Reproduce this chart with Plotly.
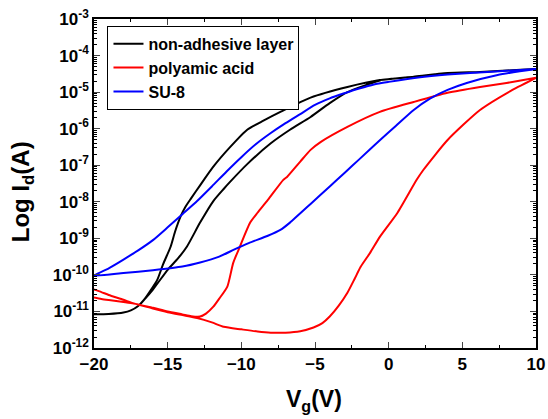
import plotly.graph_objects as go

# ---------------- data (gate voltage in V, log10 of drain current in A) ----------------
vg_black_a = [-20, -19, -18, -17.5, -17, -16.6, -16.2, -15.7, -15.3, -14.8, -14.5, -14.1, -13.8, -13.4,
              -12.8, -11.9, -10.75, -9.6, -8.5, -7.35, -5.3, -2.8, -0.6, 1.7, 4.0, 6.2, 8.0, 10]
log_black_a = [-11.08, -11.07, -11.03, -10.97, -10.85, -10.68, -10.45, -10.13, -9.70, -9.23, -8.82, -8.38,
               -8.14, -7.90, -7.55, -7.04, -6.50, -6.03, -5.78, -5.54, -5.15, -4.86, -4.67, -4.58, -4.48,
               -4.45, -4.41, -4.37]
vg_black_b = [-20, -19, -18, -17.5, -17, -16.6, -16.0, -15.0, -14.3, -13.7, -12.8, -11.9, -11.2, -10.75,
              -9.6, -8.0, -6.7, -5.3, -4.0, -2.8, -1.5, -0.6, 1.7, 4.0, 6.2, 8.0, 10]
log_black_b = [-11.08, -11.07, -11.03, -10.97, -10.85, -10.68, -10.40, -9.86, -9.55, -9.23, -8.57, -7.98,
               -7.65, -7.45, -6.97, -6.40, -6.03, -5.68, -5.30, -5.00, -4.80, -4.68, -4.58, -4.48, -4.45,
               -4.41, -4.37]

vg_red_a = [-20, -19.5, -19, -18, -17.3, -16, -15, -14, -13.4, -12.8, -12.4, -11.9, -11.5, -10.95, -10.55,
            -10.1, -9.4, -8.9, -8.2, -7.15, -6.9, -6.0, -5.3, -4.6, -2.8, -0.6, 1.7, 4.0, 6.2, 8.0, 10]
log_red_a = [-10.40, -10.47, -10.55, -10.68, -10.78, -10.90, -11.00, -11.08, -11.13, -11.14, -11.06, -10.87,
             -10.65, -10.32, -9.67, -9.23, -8.57, -8.30, -7.95, -7.40, -7.32, -6.90, -6.58, -6.36, -5.95,
             -5.54, -5.27, -5.02, -4.86, -4.75, -4.61]
vg_red_b = [-20, -19.5, -19, -18, -17.3, -16, -15, -14, -13, -12, -11.2, -10, -8.9, -8, -7, -6, -5.1, -4.5,
            -4.0, -3.4, -2.8, -2.3, -1.9, -1.25, -0.6, 0.6, 1.9, 2.35, 4.0, 6.2, 8.4, 10]
log_red_b = [-10.62, -10.66, -10.69, -10.74, -10.78, -10.92, -11.02, -11.10, -11.18, -11.30, -11.42, -11.49,
             -11.55, -11.58, -11.58, -11.54, -11.44, -11.32, -11.14, -10.85, -10.49, -10.10, -9.78, -9.39,
             -8.96, -8.30, -7.40, -7.13, -6.31, -5.49, -4.94, -4.61]

vg_blue_a = [-20, -19, -18, -17, -16, -15, -14, -13, -12, -11, -10, -9, -8, -7, -6, -5, -4, -3, -2, -1, 0,
             2, 4, 7, 10]
log_blue_a = [-10.02, -9.82, -9.58, -9.33, -9.05, -8.70, -8.34, -7.98, -7.58, -7.17, -6.78, -6.42, -6.12,
              -5.85, -5.60, -5.35, -5.17, -5.03, -4.90, -4.79, -4.72, -4.60, -4.52, -4.44, -4.37]
vg_blue_b = [-20, -18, -16, -14, -12.8, -11.5, -10.5, -9.5, -8.2, -7.35, -6.7, -5.3, -4.0, -3.0, -2.0, -0.6,
             0.5, 1.7, 2.8, 4.0, 5.3, 7.4, 10]
log_blue_b = [-10.02, -9.95, -9.87, -9.77, -9.66, -9.50, -9.31, -9.13, -8.93, -8.77, -8.57, -8.06, -7.58,
              -7.21, -6.84, -6.32, -5.92, -5.49, -5.18, -4.94, -4.75, -4.53, -4.37]

series_names = ["non-adhesive layer", "polyamic acid", "SU-8"]
series_colors = ["#000000", "#ff0000", "#0000ff"]

y_exponents = list(range(-12, -2))
y_tick_text = ["10<sup>%d</sup>" % e for e in y_exponents]
x_tick_vals = [-20, -15, -10, -5, 0, 5, 10]

# ---------------- figure ----------------
FONT = "Liberation Sans, Arial, sans-serif"
fig = go.Figure()

loops = [
    (vg_black_a, log_black_a, vg_black_b, log_black_b),
    (vg_red_a, log_red_a, vg_red_b, log_red_b),
    (vg_blue_a, log_blue_a, vg_blue_b, log_blue_b),
]
for (xa, la, xb, lb), name, color in zip(loops, series_names, series_colors):
    xs = list(xa) + list(xb)[::-1]
    ys = [10 ** v for v in la] + [10 ** v for v in lb][::-1]
    fig.add_trace(go.Scatter(x=xs, y=ys, mode="lines", name=name,
                             line=dict(color=color, width=2, shape="spline", smoothing=0.6)))

minor_y = [m * 10 ** e for e in range(-12, -3) for m in range(2, 10)]

fig.update_layout(
    width=548, height=419,
    margin=dict(l=93.5, r=12, t=19, b=71),
    paper_bgcolor="white", plot_bgcolor="white",
    font=dict(family=FONT, size=17, color="black", weight="bold"),
    showlegend=True,
    legend=dict(x=0.0305, y=0.979, xanchor="left", yanchor="top",
                bordercolor="black", borderwidth=1, bgcolor="white",
                font=dict(family=FONT, size=16, color="black", weight="bold"),
                tracegroupgap=0, itemwidth=30),
    xaxis=dict(range=[-20, 10], tickvals=x_tick_vals, ticks="inside", ticklen=6, tickwidth=1.2,
               showline=True, linecolor="black", linewidth=1.5, mirror="ticks", showgrid=False,
               zeroline=False, ticklabelstandoff=0, automargin=False,
               tickfont=dict(family=FONT, size=17, color="black", weight="bold"),
               minor=dict(tickvals=[-17.5, -12.5, -7.5, -2.5, 2.5, 7.5], ticks="inside", ticklen=3,
                          tickwidth=1.2, tickcolor="black", showgrid=False)),
    yaxis=dict(type="log", range=[-12, -3], tickvals=[10 ** e for e in y_exponents], ticktext=y_tick_text,
               ticks="inside", ticklen=6, tickwidth=1.2, automargin=False,
               showline=True, linecolor="black", linewidth=1.5, mirror="ticks", showgrid=False,
               zeroline=False,
               tickfont=dict(family=FONT, size=17, color="black", weight="bold"),
               minor=dict(tickvals=minor_y, ticks="inside", ticklen=3, tickwidth=1,
                          tickcolor="black", showgrid=False)),
    annotations=[
        dict(text="Log I<sub>d</sub>(A)", xref="paper", yref="paper", x=-0.161, y=0.476,
             xanchor="center", yanchor="middle", textangle=-90, showarrow=False,
             font=dict(family=FONT, size=24, color="black", weight="bold")),
        dict(text="V<sub>g</sub>(V)", xref="paper", yref="paper", x=0.498, y=-0.161,
             xanchor="center", yanchor="middle", showarrow=False,
             font=dict(family=FONT, size=23, color="black", weight="bold")),
    ],
)

# remove the default page-body margin so the 548x419 figure fills the window exactly
fig.write_html("out.html", config={"displayModeBar": False},
               post_script="document.body.style.margin='0';document.body.style.overflow='hidden';")
